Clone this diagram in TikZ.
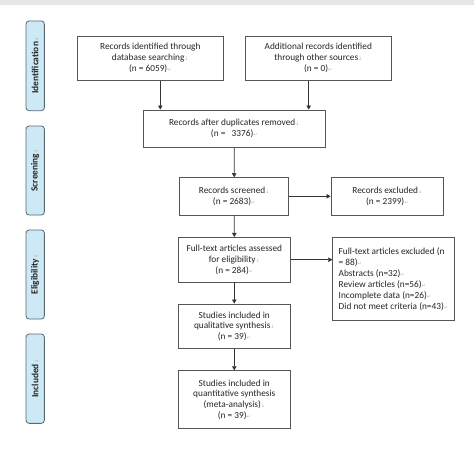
\documentclass[tikz,border=0pt]{standalone}
\usepackage{fontspec}
\setmainfont{Carlito}
\newfontfamily\markfont{DejaVu Sans}
\usetikzlibrary{arrows.meta}
\definecolor{markgray}{HTML}{B8B8B8}
\definecolor{boxline}{HTML}{555555}
\definecolor{lblfill}{HTML}{CDE9F6}
\definecolor{lblline}{HTML}{5A6870}
\definecolor{topband}{HTML}{E6E6E6}
\newcommand{\dn}{{\color{markgray}\markfont\fontsize{5}{5}\selectfont ↓}}
\newcommand{\rt}{{\color{markgray}\markfont\fontsize{5}{5}\selectfont ↵}}
\begin{document}
\begin{tikzpicture}[x=1pt,y=-1pt,
  box/.style={draw=boxline,line width=0.8pt,fill=white,inner sep=2pt,align=center,
    font=\fontsize{9.3}{10.8}\selectfont,text=black!85},
  lbl/.style={draw=lblline,line width=0.8pt,fill=lblfill,rounded corners=3pt,
    minimum width=18.3pt,inner sep=0pt,rotate=90,font=\bfseries\fontsize{9.4}{10}\selectfont,text=black!85},
  arr/.style={draw=black!80,line width=0.7pt,-{Triangle[width=4.5pt,length=4pt]}}]
\useasboundingbox (0,0) rectangle (474,452);
\fill[white] (0,0) rectangle (474,452);
\fill[topband] (0,0) rectangle (474,5);
% phase labels
\node[lbl,minimum height=18.3pt,minimum width=89.7pt] (lid) at (35.2,65.8) {Identification\dn};
\node[lbl,minimum height=18.3pt,minimum width=89pt] (lsc) at (35.2,170.5) {Screening\dn};
\node[lbl,minimum height=18.3pt,minimum width=89pt] (lel) at (35.2,274.5) {Eligibility\dn};
\node[lbl,minimum height=18.3pt,minimum width=89.3pt] (lin) at (35.2,378.7) {Included\dn};
% boxes
\node[box,minimum width=146pt,minimum height=44.3pt] (b1) at (150.3,58.2)
  {Records identified through\\database searching\dn\\(n = 6059)\rt};
\node[box,minimum width=145.3pt,minimum height=44.3pt] (b2) at (318.3,58.2)
  {Additional records identified\\through other sources\dn\\(n = 0)\rt};
\node[box,minimum width=181.3pt,minimum height=37.7pt] (b3) at (234.3,128.8)
  {Records after duplicates removed\dn\\(n = \ \ 3376)\rt};
\node[box,minimum width=109pt,minimum height=37.3pt] (b4) at (234.2,196.3)
  {Records screened\dn\\(n = 2683)\rt};
\node[box,minimum width=112.7pt,minimum height=37.3pt] (b5) at (387.3,196.3)
  {Records excluded\dn\\(n = 2399)\rt};
\node[box,minimum width=112pt,minimum height=44.7pt] (b6) at (234.3,259.7)
  {Full-text articles assessed\\for eligibility\dn\\(n = 284)\rt};
\node[box,minimum width=118pt,minimum height=82.7pt,align=left,inner sep=6pt,anchor=north west,
  font=\fontsize{9.3}{11.1}\selectfont] (b7) at (332.3,237.3)
  {Full-text articles excluded (n\\= 88)\rt\\Abstracts (n=32)\rt\\Review articles (n=56)\rt\\Incomplete data (n=26)\rt\\Did not meet criteria (n=43)\rt};
\node[box,minimum width=112pt,minimum height=44.7pt] (b8) at (234.3,326.3)
  {Studies included in\\qualitative synthesis\dn\\(n = 39)\rt};
\node[box,minimum width=112pt,minimum height=58pt] (b9) at (234.3,399.7)
  {Studies included in\\quantitative synthesis\\(meta-analysis)\dn\\(n = 39)\rt};
% connectors
\coordinate (c1) at (160.3,0);
\coordinate (c2) at (308.7,0);
\draw[arr] (b1.south -| c1) -- (b3.north -| c1);
\draw[arr] (b2.south -| c2) -- (b3.north -| c2);
\draw[arr] (b3.south) -- (b4.north);
\draw[arr] (b4.east) -- (b5.west);
\draw[arr] (b4.south) -- (b6.north);
\draw[arr] (b6.east) -- (b7.west |- b6.east);
\draw[arr] (b6.south) -- (b8.north);
\draw[arr] (b8.south) -- (b9.north);
\end{tikzpicture}
\end{document}
